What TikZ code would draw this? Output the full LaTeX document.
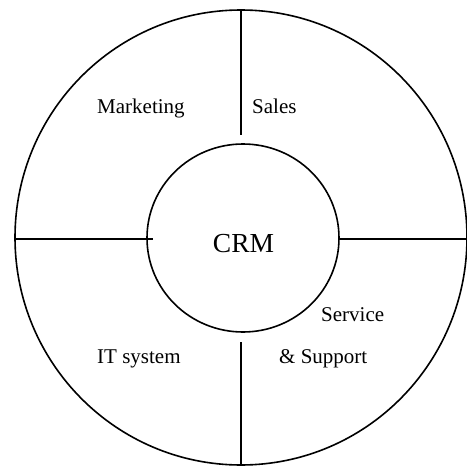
\documentclass[tikz,border=0pt]{standalone}
\usepackage{fontspec}
\setmainfont{Liberation Serif}
\usetikzlibrary{shapes.geometric}
\begin{document}
\begin{tikzpicture}[x=1pt,y=-1pt,
  ring/.style={draw=black,line width=1.6pt,ellipse,inner sep=0pt},
  divider/.style={draw=black,line width=1.6pt},
  lbl/.style={anchor=base west,inner sep=0pt,font=\fontsize{21}{24}\selectfont}]
\useasboundingbox (0,0) rectangle (467,466);
\node[ring,minimum width=452pt,minimum height=455pt] (outer) at (241,237.5) {};
\node[ring,minimum width=192pt,minimum height=188pt] (crm) at (243,238) {};
\node[anchor=base,inner sep=0pt,font=\fontsize{27.5}{30}\selectfont] (crmtext) at (243.5,252) {CRM};
\coordinate (ltop) at (241,135);
\coordinate (lbot) at (241,342);
\coordinate (lleft) at (153,239);
\coordinate (lright) at (338,239);
\coordinate (otop) at (241,10);
\coordinate (obot) at (241,465);
\coordinate (oleft) at (15,239);
\coordinate (oright) at (467,239);
\draw[divider] (otop) -- (ltop);
\draw[divider] (lbot) -- (obot);
\draw[divider] (oleft) -- (lleft);
\draw[divider] (lright) -- (oright);
\node[lbl] (mkt) at (97,113) {Marketing};
\node[lbl] (sales) at (252,113) {Sales};
\node[lbl] (service) at (321,321) {Service};
\node[lbl] (support) at (279,363) {\& Support};
\node[lbl] (it) at (97,363) {IT system};
\end{tikzpicture}
\end{document}
